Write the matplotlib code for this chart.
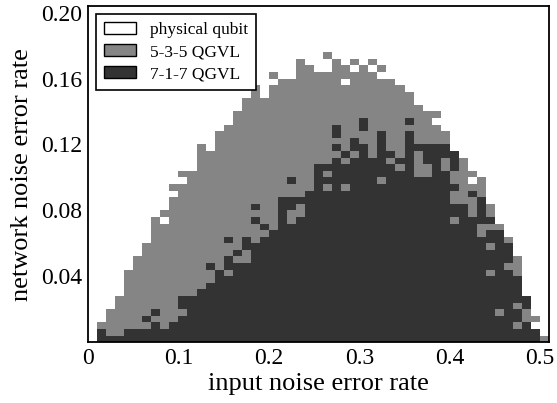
import numpy as np
import matplotlib
matplotlib.use('Agg')
import matplotlib.pyplot as plt
from matplotlib.colors import ListedColormap
from matplotlib.patches import Patch

# grid: 51 input-noise columns (0..0.50) x 51 network-noise rows (0..0.20)
input_noise = np.arange(51) * 0.01
network_noise = np.arange(51) * 0.004

# per column: rows (from bottom) where 7-1-7 wins, rows where anything beats physical
dark_top = [0, 2, 1, 1, 2, 2, 2, 3, 2, 3,
            7, 7, 8, 9, 11, 10, 12, 12, 15, 16,
            17, 22, 22, 19, 23, 27, 27, 28, 27, 28,
            30, 28, 32, 27, 28, 32, 25, 25, 30, 26,
            29, 21, 19, 16, 17, 17, 15, 10, 7, 2,
            0]
gray_top = [0, 3, 5, 7, 11, 13, 15, 19, 20, 24,
            26, 26, 30, 29, 32, 33, 35, 37, 39, 38,
            39, 40, 40, 43, 42, 41, 41, 43, 42, 43,
            42, 43, 42, 40, 39, 38, 36, 35, 35, 32,
            29, 28, 26, 25, 21, 18, 16, 13, 7, 4,
            1]

# isolated cells (column, row)
dark_spots = [(6, 3), (7, 4), (13, 11), (15, 11), (15, 12), (15, 15), (16, 13),
              (17, 14), (17, 15), (18, 18), (18, 20), (19, 17), (22, 24),
              (23, 21), (27, 29), (27, 31), (27, 32), (28, 28), (29, 29),
              (29, 30), (30, 32), (30, 33), (33, 28), (35, 33), (36, 29),
              (37, 27), (37, 28), (37, 29), (39, 28), (39, 29), (42, 22),
              (43, 18), (43, 19), (43, 20), (43, 21), (44, 18)]
gray_spots = [(10, 4), (13, 9), (13, 10), (15, 10), (17, 13), (22, 18), (22, 19),
              (23, 22), (23, 23), (23, 24), (26, 23), (26, 25), (28, 23),
              (28, 27), (32, 24), (33, 27), (34, 26), (36, 27), (36, 28),
              (39, 26), (39, 27), (40, 18), (40, 21), (40, 22), (40, 24),
              (40, 25), (44, 10), (44, 14), (45, 4), (46, 11), (47, 2),
              (47, 5), (48, 3), (48, 4), (20, 40), (26, 43), (38, 34)]
white_spots = [(8, 18), (9, 22), (10, 24), (28, 39), (28, 42), (29, 41),
               (30, 42), (31, 41), (32, 40), (38, 33), (42, 24), (49, 2),
               (19, 37)]

grid = np.zeros((51, 51))
for c in range(51):
    grid[:gray_top[c], c] = 1
    grid[:dark_top[c], c] = 2
for c, r in dark_spots:
    grid[r, c] = 2
for c, r in gray_spots:
    grid[r, c] = 1
for c, r in white_spots:
    grid[r, c] = 0

labels = ['physical qubit', '5-3-5 QGVL', '7-1-7 QGVL']
colors = ['#ffffff', '#858585', '#333333']

plt.rcParams['font.family'] = ['Liberation Serif', 'DejaVu Serif']

fig = plt.figure(figsize=(5.57, 4.03), dpi=100)
ax = fig.add_axes([0.158, 0.151, 0.828, 0.834])

xe = np.append(input_noise, 0.51)
ye = np.append(network_noise, 0.204)
ax.pcolormesh(xe, ye, grid, cmap=ListedColormap(colors), vmin=0, vmax=2)

ax.set_xlim(0, 0.51)
ax.set_ylim(0, 0.204)
ax.set_xticks([0, 0.1, 0.2, 0.3, 0.4, 0.5])
ax.set_xticklabels(['0', '0.1', '0.2', '0.3', '0.4', '0.5'])
ax.set_yticks([0.04, 0.08, 0.12, 0.16, 0.20])
ax.set_yticklabels(['0.04', '0.08', '0.12', '0.16', '0.20'])
ax.tick_params(length=0, labelsize=17, pad=4)
for s in ax.spines.values():
    s.set_linewidth(1.3)

ax.set_xlabel('input noise error rate', fontsize=19, labelpad=3)
ax.set_ylabel('network noise error rate', fontsize=19, labelpad=6)

handles = [Patch(facecolor=col, edgecolor='black', linewidth=1) for col in colors]
leg = ax.legend(handles, labels, loc='upper left', fontsize=12.5, fancybox=False,
                edgecolor='black', framealpha=1, handlelength=1.85, handleheight=0.7,
                handletextpad=0.8, borderaxespad=0.45, labelspacing=0.35,
                borderpad=0.45)
leg.get_frame().set_linewidth(1.2)

fig.savefig('out.png', dpi=100)
